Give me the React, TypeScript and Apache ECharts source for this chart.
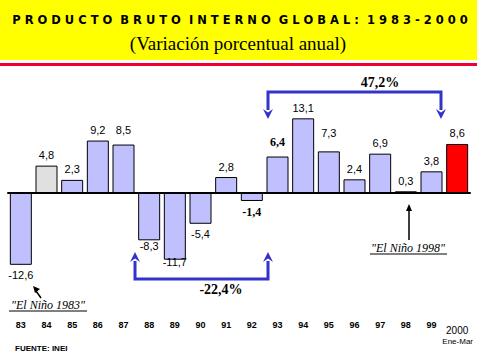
import React, { useEffect, useRef } from "react";
import * as echarts from "echarts";

const categories = ["83", "84", "85", "86", "87", "88", "89", "90", "91", "92", "93", "94", "95", "96", "97", "98", "99", "2000"];
const growth = [-12.6, 4.8, 2.3, 9.2, 8.5, -8.3, -11.7, -5.4, 2.8, -1.4, 6.4, 13.1, 7.3, 2.4, 6.9, 0.3, 3.8, 8.6];
const titleText = "PRODUCTO BRUTO INTERNO GLOBAL: 1983-2000";
const subtitleText = "(Variación porcentual anual)";
const riseText = "47,2%";
const fallText = "-22,4%";
const nino83 = "\"El Niño 1983\"";
const nino98 = "\"El Niño 1998\"";
const sourceText = "FUENTE: INEI";
const periodText = "Ene-Mar";

const BAR = "#c0c0ff";
const barColors: Record<string, string> = { "84": "#e0e0e0", "2000": "#ff0000" };
const labelNudge: Record<string, number> = { "87": -4, "93": -4, "95": -8, "88": -5, "89": -8 };
const serifLabels = new Set(["93", "92"]);

const spaced = (s: string) =>
  s.split(" ").map((w) => w.split("").join(" ")).join("  ");

function arrowHead(x: number, y: number, dir: "up" | "down", w: number, h: number, color: string) {
  const s = dir === "down" ? -1 : 1;
  return {
    type: "polygon",
    shape: {
      points: [
        [x, y],
        [x - w / 2, y + s * h],
        [x, y + s * h * 0.65],
        [x + w / 2, y + s * h],
      ],
    },
    style: { fill: color },
    z: 10,
  };
}

export default function App() {
  const ref = useRef<HTMLDivElement>(null);
  useEffect(() => {
    if (!ref.current) return;
    const chart = echarts.init(ref.current, null, { renderer: "svg" });
    const BLUE = "#3333cc";
    const data = growth.map((v, i) => {
      const c = categories[i];
      const serif = serifLabels.has(c);
      return {
        value: v,
        itemStyle: { color: barColors[c] || BAR },
        label: {
          position: v >= 0 ? "top" : "bottom",
          offset: [0, labelNudge[c] || 0],
          fontFamily: serif ? "Liberation Serif" : "Liberation Sans",
          fontWeight: serif ? "bold" : "normal",
          fontSize: serif ? 12 : 11,
        },
      };
    });
    chart.setOption({
      animation: false,
      backgroundColor: "#ffffff",
      grid: { left: 8, right: 7, top: 79, height: 228, outerBoundsMode: "none", containLabel: false },
      xAxis: [
        {
          type: "category",
          data: categories,
          position: "bottom",
          axisLine: { onZero: true, lineStyle: { color: "#000", width: 2 } },
          axisTick: { show: false },
          axisLabel: { show: false },
        },
        {
          type: "category",
          data: categories,
          position: "bottom",
          axisLine: { show: false, onZero: false },
          axisTick: { show: false },
          axisLabel: {
            interval: 0,
            margin: 13,
            fontSize: 9,
            fontWeight: "bold",
            fontFamily: "Liberation Sans",
            color: "#000",
            formatter: (v: string) => (v.length > 2 ? `{y|${v}}` : v),
            rich: { y: { fontSize: 10, fontWeight: "normal", fontFamily: "Liberation Sans", color: "#000", padding: [5, 0, 0, 0] } },
          },
        },
      ],
      yAxis: { type: "value", min: -20, max: 20, show: false, splitLine: { show: false } },
      series: [
        {
          type: "bar",
          data,
          barWidth: 22,
          itemStyle: { borderColor: "#000", borderWidth: 1 },
          label: {
            show: true,
            distance: 5,
            color: "#000",
            formatter: (p: any) => String(p.value).replace(".", ","),
          },
        },
      ],
      graphic: [
        { type: "rect", shape: { x: 0, y: 0, width: 477, height: 60 }, style: { fill: "#ffff00" }, z: 0 },
        { type: "rect", shape: { x: 0, y: 63, width: 477, height: 3 }, style: { fill: "#f00030" }, z: 0 },
        {
          type: "text", x: 240, y: 20,
          style: { text: spaced(titleText), fill: "#000", font: "bold 11.5px 'DejaVu Sans'", textAlign: "center", textVerticalAlign: "middle" },
          z: 5,
        },
        {
          type: "text", x: 238, y: 43,
          style: { text: subtitleText, fill: "#000", font: "19px 'Liberation Serif'", textAlign: "center", textVerticalAlign: "middle" },
          z: 5,
        },
        // 47,2% bracket
        { type: "polyline", shape: { points: [[268, 110], [268, 92], [441, 92], [441, 110]] }, style: { stroke: BLUE, lineWidth: 3, fill: null }, z: 9 },
        arrowHead(268, 119, "down", 10, 10, BLUE),
        arrowHead(441, 119, "down", 10, 10, BLUE),
        {
          type: "text", x: 380, y: 82,
          style: { text: riseText, fill: "#000", font: "bold 14px 'Liberation Serif'", textAlign: "center", textVerticalAlign: "middle" },
          z: 10,
        },
        // -22,4% bracket
        { type: "polyline", shape: { points: [[135, 261], [135, 279], [268, 279], [268, 261]] }, style: { stroke: BLUE, lineWidth: 3, fill: null }, z: 9 },
        arrowHead(135, 252, "up", 10, 10, BLUE),
        arrowHead(268, 252, "up", 10, 10, BLUE),
        {
          type: "text", x: 221, y: 289,
          style: { text: fallText, fill: "#000", font: "bold 14px 'Liberation Serif'", textAlign: "center", textVerticalAlign: "middle" },
          z: 10,
        },
        // El Niño 1983
        { type: "line", shape: { x1: 41, y1: 298, x2: 36, y2: 291 }, style: { stroke: "#000", lineWidth: 1.5 }, z: 10 },
        {
          type: "polygon",
          shape: { points: [[33, 286], [40, 289], [35, 293]] },
          style: { fill: "#000" }, z: 10,
        },
        {
          type: "text", x: 48, y: 305,
          style: { text: nino83, fill: "#000", font: "italic 12px 'Liberation Serif'", textAlign: "center", textVerticalAlign: "middle" },
          z: 10,
        },
        { type: "line", shape: { x1: 9, y1: 311, x2: 87, y2: 311 }, style: { stroke: "#000", lineWidth: 1 }, z: 10 },
        // El Niño 1998
        { type: "line", shape: { x1: 409, y1: 240, x2: 409, y2: 209 }, style: { stroke: "#000", lineWidth: 1.5 }, z: 10 },
        {
          type: "polygon",
          shape: { points: [[409, 204], [406, 211], [412, 211]] },
          style: { fill: "#000" }, z: 10,
        },
        {
          type: "text", x: 408, y: 248,
          style: { text: nino98, fill: "#000", font: "italic 12px 'Liberation Serif'", textAlign: "center", textVerticalAlign: "middle" },
          z: 10,
        },
        { type: "line", shape: { x1: 370, y1: 254, x2: 447, y2: 254 }, style: { stroke: "#000", lineWidth: 1 }, z: 10 },
        // footer
        {
          type: "text", x: 15, y: 348,
          style: { text: sourceText, fill: "#000", font: "bold 8px 'Liberation Sans'", textAlign: "left", textVerticalAlign: "middle" },
          z: 10,
        },
        {
          type: "text", x: 473, y: 341,
          style: { text: periodText, fill: "#000", font: "8px 'Liberation Sans'", textAlign: "right", textVerticalAlign: "middle" },
          z: 10,
        },
      ],
    });
    return () => chart.dispose();
  }, []);
  return <div ref={ref} style={{ position: "fixed", left: 0, top: 0, width: 477, height: 357 }} />;
}
